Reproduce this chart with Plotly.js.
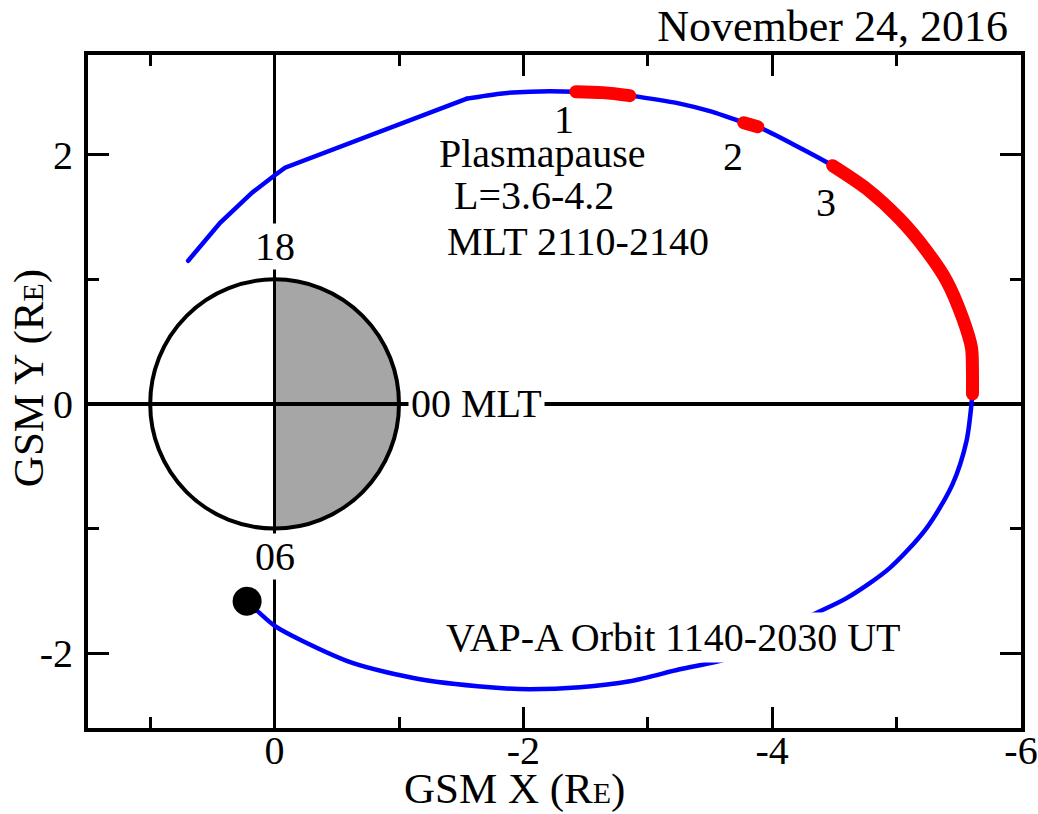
<!DOCTYPE html>
<html>
<head>
<meta charset="utf-8">
<script src="https://cdn.plot.ly/plotly-3.0.1.min.js"></script>
<style>
  body { margin: 0; padding: 0; background: #fff; }
  #chart { width: 1038px; height: 814px; }
  .js-line { stroke-linecap: round; }
</style>
</head>
<body>
<div id="chart"></div>
<script>
// VAP-A orbit (GSM, Earth radii), from the dot along the orbit
const orbitX = [0.221, -0.004, -0.229, -0.631, -1.169, -1.835, -2.052, -2.454, -2.855, -3.257, -3.659, -3.980, -4.301, -4.598, -4.944, -5.241, -5.450, -5.562, -5.602, -5.610, -5.610, -5.602, -5.530, -5.402, -5.241, -5.024, -4.759, -4.486, -4.221, -3.884, -3.771, -3.514, -3.257, -2.855, -2.639, -2.422, -2.052, -1.811, -1.546, -1.032, -0.663, -0.309, -0.084, 0.004, 0.181, 0.438, 0.695];
const orbitY = [-1.582, -1.783, -1.904, -2.080, -2.209, -2.281, -2.289, -2.273, -2.225, -2.129, -2.040, -1.880, -1.703, -1.558, -1.317, -0.996, -0.643, -0.297, 0.000, 0.104, 0.241, 0.450, 0.691, 0.988, 1.229, 1.486, 1.727, 1.912, 2.056, 2.225, 2.257, 2.345, 2.410, 2.474, 2.498, 2.506, 2.506, 2.490, 2.450, 2.257, 2.112, 1.984, 1.896, 1.831, 1.695, 1.454, 1.149];
// the orbit is a smooth curve up to this point, then a piecewise path
const orbitKinkIndex = 38;

// Plasmapause crossings (red)
const pp1X = [-2.422, -2.639, -2.855];
const pp1Y = [2.506, 2.498, 2.474];
const pp2X = [-3.771, -3.884];
const pp2Y = [2.257, 2.225];
const pp3X = [-4.486, -4.759, -5.024, -5.241, -5.402, -5.530, -5.602, -5.610, -5.610];
const pp3Y = [1.912, 1.727, 1.486, 1.229, 0.988, 0.691, 0.450, 0.241, 0.080];

// Orbit start marker
const startX = [0.221];
const startY = [-1.582];

// Axis ticks
const xTickVals = [0, -2, -4, -6];
const xTickText = ['0', '-2', '-4', '-6'];
const yTickVals = [-2, 0, 2];
const yTickText = ['-2', '0', '2'];

// Earth (radius 1 R_E); night half shaded
const earthR = 1;

const FONT = 'Liberation Serif, Times New Roman, serif';

let nightPath = 'M 0,' + (-earthR);
const N = 90;
for (let i = 1; i <= N; i++) {
  const t = -Math.PI / 2 + Math.PI * i / N;
  nightPath += ' L ' + (-earthR * Math.cos(t)).toFixed(4) + ',' + (earthR * Math.sin(t)).toFixed(4);
}
nightPath += ' Z';

const BLUE = '#0000ff', RED = '#ff0000';
const traces = [
  { x: orbitX.slice(0, orbitKinkIndex + 1), y: orbitY.slice(0, orbitKinkIndex + 1), type: 'scatter', mode: 'lines',
    line: { color: BLUE, width: 4.5, shape: 'spline', smoothing: 0.8 }, hoverinfo: 'skip' },
  { x: orbitX.slice(orbitKinkIndex), y: orbitY.slice(orbitKinkIndex), type: 'scatter', mode: 'lines',
    line: { color: BLUE, width: 4.5 }, hoverinfo: 'skip' },
  { x: pp1X, y: pp1Y, type: 'scatter', mode: 'lines',
    line: { color: RED, width: 13, shape: 'spline' }, hoverinfo: 'skip' },
  { x: pp2X, y: pp2Y, type: 'scatter', mode: 'lines',
    line: { color: RED, width: 13 }, hoverinfo: 'skip' },
  { x: pp3X, y: pp3Y, type: 'scatter', mode: 'lines',
    line: { color: RED, width: 13, shape: 'spline', smoothing: 0.8 }, hoverinfo: 'skip' },
  { x: startX, y: startY, type: 'scatter', mode: 'markers',
    marker: { color: '#000', size: 29 }, hoverinfo: 'skip' }
];

const axisCommon = {
  showgrid: false,
  zeroline: true, zerolinecolor: '#000', zerolinewidth: 3.5,
  showline: true, linecolor: '#000', linewidth: 4, mirror: 'ticks',
  ticks: 'inside', ticklen: 21, tickwidth: 3, tickcolor: '#000',
  tickmode: 'array',
  ticklabeloverflow: 'allow',
  minor: { dtick: 1, ticks: 'inside', ticklen: 11, tickwidth: 3, tickcolor: '#000' },
  tickfont: { family: FONT, size: 40, color: '#000' },
  fixedrange: true
};

const TXT = { family: FONT, size: 40, color: '#000' };
const TITLEFONT = { family: FONT, size: 43, color: '#000' };
const SMALLE = '<span style="font-size:30px">E</span>';

const layout = {
  width: 1038, height: 814,
  margin: { l: 88, r: 17, t: 55, b: 86 },
  paper_bgcolor: '#fff', plot_bgcolor: '#fff',
  showlegend: false,
  font: { family: FONT, color: '#000' },
  title: { text: 'November 24, 2016', font: { family: FONT, size: 44, color: '#000' },
    xref: 'container', x: 0.971, xanchor: 'right', yref: 'container', y: 0.969, yanchor: 'middle' },
  xaxis: Object.assign({}, axisCommon, {
    range: [1.5, -6], tickvals: xTickVals, ticktext: xTickText,
    ticklabelstandoff: -16,
    minor: Object.assign({}, axisCommon.minor, { tick0: 1 })
  }),
  yaxis: Object.assign({}, axisCommon, {
    range: [-2.6, 2.8], tickvals: yTickVals, ticktext: yTickText,
    ticklabelstandoff: 3
  }),
  shapes: [
    { type: 'path', path: nightPath, xref: 'x', yref: 'y', layer: 'below',
      fillcolor: '#a6a6a6', line: { width: 0 } },
    { type: 'circle', xref: 'x', yref: 'y', x0: -earthR, x1: earthR, y0: -earthR, y1: earthR,
      layer: 'below', line: { color: '#000', width: 4 } }
  ],
  annotations: [
    // axis titles
    { text: 'GSM X (R' + SMALLE + ')', xref: 'x', x: -1.93, yref: 'paper', y: -0.091,
      xanchor: 'center', yanchor: 'middle', showarrow: false, borderpad: 0, font: TITLEFONT },
    { text: 'GSM Y (R' + SMALLE + ')', xref: 'paper', x: -0.063, yref: 'y', y: 0.209, textangle: -90,
      xanchor: 'center', yanchor: 'middle', showarrow: false, borderpad: 0, font: TITLEFONT },
    // labels
    { text: 'Plasmapause', x: -1.305, y: 2.010, xanchor: 'left', yanchor: 'middle', showarrow: false, font: TXT },
    { text: 'L=3.6-4.2', x: -1.426, y: 1.671, xanchor: 'left', yanchor: 'middle', showarrow: false, font: TXT },
    { text: 'MLT 2110-2140', x: -1.369, y: 1.301, xanchor: 'left', yanchor: 'middle', showarrow: false, font: TXT },
    { text: '1', x: -2.325, y: 2.285, showarrow: false, borderpad: 0, font: TXT },
    { text: '2', x: -3.683, y: 1.984, showarrow: false, font: TXT },
    { text: '3', x: -4.430, y: 1.614, showarrow: false, font: TXT },
    { text: '18', x: 0, y: 1.261, showarrow: false, bgcolor: '#fff', borderpad: 0, font: TXT },
    { text: '06', x: 0, y: -1.221, showarrow: false, bgcolor: '#fff', borderpad: 0, font: TXT },
    { text: '00 MLT', x: -1.07, y: 0, xanchor: 'left', yanchor: 'middle', showarrow: false,
      bgcolor: '#fff', borderpad: 2, font: TXT },
    { text: 'VAP-A Orbit 1140-2030 UT', x: -1.353, y: -1.871, xanchor: 'left', yanchor: 'middle', showarrow: false,
      bgcolor: '#fff', borderpad: 2, font: TXT }
  ]
};

Plotly.newPlot('chart', traces, layout, { staticPlot: true, displayModeBar: false });
</script>
</body>
</html>
